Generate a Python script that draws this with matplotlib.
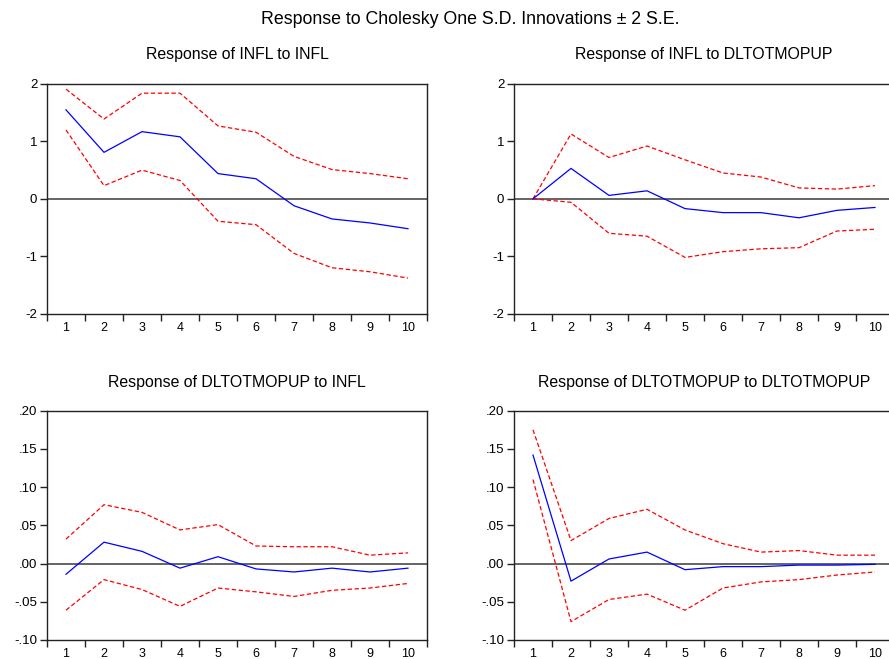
import matplotlib
matplotlib.use("Agg")
import matplotlib.pyplot as plt
from matplotlib.ticker import FixedLocator, FuncFormatter

plt.rcParams['font.family'] = ['Liberation Sans', 'DejaVu Sans']

periods = list(range(1, 11))

# Response of INFL to INFL
infl_infl = [1.55, 0.81, 1.17, 1.08, 0.44, 0.35, -0.12, -0.35, -0.42, -0.52]
infl_infl_up = [1.91, 1.39, 1.84, 1.84, 1.27, 1.16, 0.74, 0.51, 0.44, 0.35]
infl_infl_lo = [1.20, 0.23, 0.50, 0.32, -0.39, -0.45, -0.95, -1.20, -1.27, -1.38]

# Response of INFL to DLTOTMOPUP
infl_dl = [0.00, 0.53, 0.06, 0.14, -0.17, -0.24, -0.24, -0.33, -0.20, -0.15]
infl_dl_up = [0.00, 1.13, 0.72, 0.92, 0.68, 0.45, 0.38, 0.19, 0.17, 0.23]
infl_dl_lo = [0.00, -0.06, -0.60, -0.65, -1.02, -0.92, -0.87, -0.85, -0.56, -0.53]

# Response of DLTOTMOPUP to INFL
dl_infl = [-0.014, 0.028, 0.016, -0.006, 0.009, -0.007, -0.011, -0.006, -0.011, -0.006]
dl_infl_up = [0.032, 0.077, 0.067, 0.044, 0.051, 0.023, 0.022, 0.022, 0.011, 0.014]
dl_infl_lo = [-0.061, -0.021, -0.034, -0.056, -0.032, -0.037, -0.043, -0.035, -0.032, -0.026]

# Response of DLTOTMOPUP to DLTOTMOPUP
dl_dl = [0.142, -0.023, 0.006, 0.015, -0.008, -0.004, -0.004, -0.002, -0.002, -0.001]
dl_dl_up = [0.175, 0.030, 0.059, 0.071, 0.044, 0.026, 0.015, 0.017, 0.011, 0.011]
dl_dl_lo = [0.110, -0.076, -0.047, -0.040, -0.061, -0.032, -0.024, -0.021, -0.015, -0.011]

W, H = 889, 659
fig = plt.figure(figsize=(W / 100, H / 100), dpi=100)
fig.patch.set_facecolor('white')


def box(left, top, width, height):
    return [left / W, 1 - (top + height) / H, width / W, height / H]


panels = [
    (box(47, 84, 380, 229.7), 55, "Response of INFL to INFL",
     infl_infl, infl_infl_up, infl_infl_lo, (-2, 2), [-2, -1, 0, 1, 2], 'int'),
    (box(514, 84, 380, 229.7), 55, "Response of INFL to DLTOTMOPUP",
     infl_dl, infl_dl_up, infl_dl_lo, (-2, 2), [-2, -1, 0, 1, 2], 'int'),
    (box(47, 410.7, 380, 229.3), 383, "Response of DLTOTMOPUP to INFL",
     dl_infl, dl_infl_up, dl_infl_lo, (-0.10, 0.20),
     [-0.10, -0.05, 0.0, 0.05, 0.10, 0.15, 0.20], 'dec'),
    (box(514, 410.7, 380, 229.3), 383, "Response of DLTOTMOPUP to DLTOTMOPUP",
     dl_dl, dl_dl_up, dl_dl_lo, (-0.10, 0.20),
     [-0.10, -0.05, 0.0, 0.05, 0.10, 0.15, 0.20], 'dec'),
]


def dec_fmt(v, pos):
    s = f"{v:.2f}"
    if s.startswith("-0"):
        return "-" + s[2:]
    if s.startswith("0"):
        return s[1:]
    return s


for rect, title_y, title, mid, up, lo, ylim, yticks, kind in panels:
    ax = fig.add_axes(rect)
    ax.axhline(0, color='#3a3a3a', lw=1.1, zorder=1)
    ax.plot(periods, up, color='#ff0000', lw=0.9, ls=(0, (3.5, 2)), zorder=2)
    ax.plot(periods, lo, color='#ff0000', lw=0.9, ls=(0, (3.5, 2)), zorder=2)
    ax.plot(periods, mid, color='#0000ff', lw=0.9, zorder=3)
    ax.set_xlim(0.5, 10.5)
    ax.set_ylim(*ylim)
    ax.set_yticks(yticks)
    if kind == 'dec':
        ax.yaxis.set_major_formatter(FuncFormatter(dec_fmt))
    else:
        ax.yaxis.set_major_formatter(FuncFormatter(lambda v, p: f"{int(round(v))}"))
    ax.set_xticks(periods)
    ax.xaxis.set_minor_locator(FixedLocator([x + 0.5 for x in range(0, 11)]))
    ax.tick_params(axis='x', which='major', length=0, pad=6, labelsize=9)
    ax.tick_params(axis='x', which='minor', length=5, width=1.0, direction='out', color='#222222')
    ax.tick_params(axis='y', which='major', length=5, width=1.0, direction='out', pad=2,
                   labelsize=9.5, color='#222222')
    for sp in ax.spines.values():
        sp.set_linewidth(1.0)
        sp.set_color('#222222')
    # panel heading centred over the plotting box
    cx = rect[0] + rect[2] / 2
    fig.text(cx, 1 - title_y / H, title, ha='center', va='center', fontsize=11.4)

fig.text(470 / W, 1 - 20 / H, "Response to Cholesky One S.D. Innovations \u00b1 2 S.E.",
         ha='center', va='center', fontsize=12.8)

fig.savefig("out.png", dpi=100, facecolor='white')
